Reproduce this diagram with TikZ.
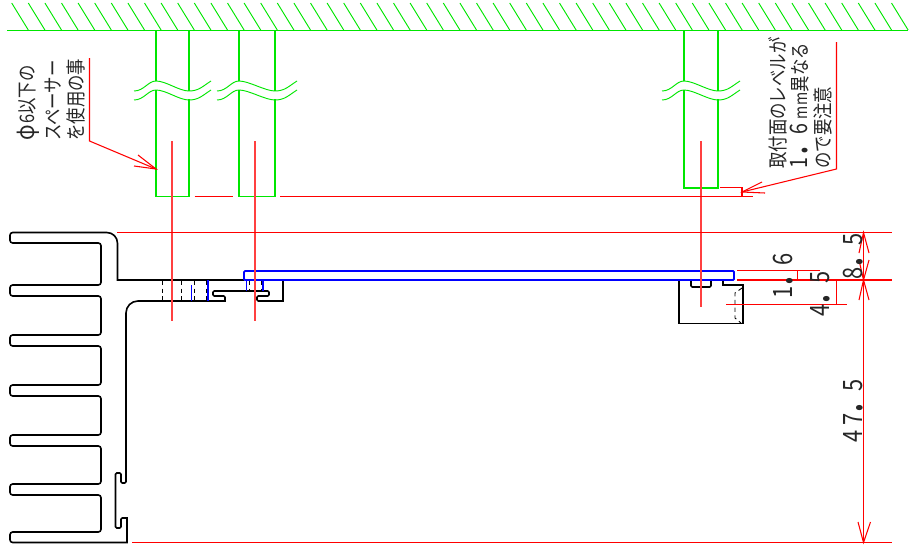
\documentclass[tikz,border=0pt]{standalone}
\usepackage{graphicx}
\usepackage{fontspec}
\newfontfamily\cadfont[FakeStretch=0.82]{Noto Sans CJK JP}
\usepackage{tikz}
\usetikzlibrary{calc, positioning, arrows.meta}
\definecolor{cadgreen}{RGB}{0,230,0}
\definecolor{cadred}{RGB}{255,0,0}
\definecolor{cadblue}{RGB}{0,0,255}
\newcommand{\bigdot}{\scalebox{1.8}{.}}
\newcommand{\smallm}{{\fontsize{13}{13}\selectfont m}}
\tikzset{
    hatch/.style={draw=cadgreen, line width=0.7pt},
    spacer/.style={draw=cadgreen, line width=1.3pt},
    wave/.style={draw=cadgreen, line width=0.7pt},
    dim/.style={draw=cadred, line width=0.8pt},
    centre/.style={draw=cadred!75, line width=1pt},
    profile/.style={draw=black, line width=1.2pt},
    hidden/.style={draw=black, line width=0.7pt, dash pattern=on 3.2pt off 2.6pt},
    plate/.style={draw=cadblue, line width=1.4pt},
    bluehole/.style={draw=cadblue, line width=0.9pt},
    note/.style={rotate=90, anchor=south west, inner sep=0pt, text=black!85, font=\cadfont\fontsize{15}{15}\selectfont, align=left},
    dimtext/.style={rotate=90, anchor=south west, inner sep=0pt, text=black!85, font=\cadfont\fontsize{20}{20}\selectfont}
}
% one spacer with its break, #1 and #2 are the sides, #3 the foot
\newcommand{\spacerpost}[3]{
    \draw[spacer] (#1,30) -- (#1,81) (#1,90) -- (#1,#3) -- (#2,#3) -- (#2,99) (#2,91) -- (#2,30);
    \foreach \dy in {0,9} {
        \draw[wave, yshift=-\dy*0.75pt] (#1-22,91) .. controls (#1-12,91) and (#1-8,81) .. (#1,81)
            .. controls (#1+10,81) and (#2-10,91) .. (#2,91)
            .. controls (#2+10,91) and (#2+14,86) .. (#2+22,81);
    }
}
\begin{document}
\begin{tikzpicture}[x=0.75pt, y=-0.75pt]
        \useasboundingbox (0,0) rectangle (916,550);

        % Ceiling
        \draw[hatch] (7,30) -- (908,30);
        \foreach \i in {0,...,53} {
            \draw[hatch] (11.7+16.6*\i,3) -- (28.3+16.6*\i,30);
        }

        % Spacers
        \spacerpost{156}{189}{196.5}
        \spacerpost{239}{275}{196.5}
        \spacerpost{684}{718}{188}

        % Profile
        \draw[profile, rounded corners=0pt] (244,280) -- (117.5,280)
            [rounded corners=8pt] -- (117.5,232.5)
            [rounded corners=2pt] -- (10,232.5) -- (10,243) -- (101,243) -- (101,285)
            -- (10,285) -- (10,296) -- (101,296) -- (101,335)
            -- (10,335) -- (10,346) -- (101,346) -- (101,385)
            -- (10,385) -- (10,396) -- (101,396) -- (101,435)
            -- (10,435) -- (10,446) -- (101,446) -- (101,484)
            -- (10,484) -- (10,495) -- (101,495) -- (101,532)
            -- (10,532) -- (10,542.5) [sharp corners] -- (127,542.5) -- (127,518)
            [rounded corners=1pt] -- (121,518) -- (121,528) -- (115.5,528) -- (115.5,473) -- (121,473) -- (121,483) -- (126,483)
            [rounded corners=9pt] -- (126,301) [rounded corners=0pt] -- (225,301)
            [rounded corners=1pt] -- (225,296) -- (213,296) -- (213,291) -- (269,291) -- (269,296) -- (257,296) -- (257,301)
            [rounded corners=0pt] -- (283,301) -- (283,280);

        % Hidden holes
        \foreach \hx in {162.7,181.7,194.3,206.7} {
            \draw[hidden] (\hx,281) -- (\hx,301);
        }
        \foreach \hx in {249,261} {
            \draw[hidden] (\hx,281) -- (\hx,291);
        }
        \draw[bluehole] (191.7,285) -- (191.7,301);
        \draw[bluehole] (208,280) -- (208,301);
        \draw[bluehole] (246.7,280) -- (246.7,291);
        \draw[bluehole] (263,280) -- (263,291);
        \draw[hidden] (742,288) -- (735,293) -- (735,318) -- (741,323);

        % Bracket
        \draw[profile] (679,280) -- (679,323.5) -- (742.7,323.5) -- (742.7,285) -- (722.7,285) -- (722.7,280);
        \draw[profile, rounded corners=1pt] (691,280) -- (691,287) -- (711,287) -- (711,280);

        % Plate
        \draw[plate, rounded corners=0.8pt] (244,271) rectangle (734,280);

        % Centre lines
        \draw[centre] (172,141) -- (172,321);
        \draw[centre] (255,141) -- (255,321);
        \draw[centre] (701,141) -- (701,307);

        % Dimension lines
        \coordinate (dimTop) at (863.5,232.5);
        \coordinate (dimMid) at (863.5,280);
        \coordinate (dimBot) at (863.5,542.5);
        \draw[dim] (117,232.5) -- (892,232.5);
        \draw[dim] (737,280) -- (892,280);
        \draw[dim] (737,270.5) -- (820,270.5);
        \draw[dim] (726,304.5) -- (847,304.5);
        \draw[dim] (797.5,270.5) -- (797.5,280);
        \draw[dim] (836.5,280) -- (836.5,304.5);
        \draw[dim] (132,542.5) -- (892,542.5);
        \draw[dim] (dimTop) -- (dimBot);
        \draw[dim] (859,253) -- (dimTop) -- (869,253);
        \draw[dim] (859,260) -- (dimMid) -- (869,260);
        \draw[dim] (859,300) -- (dimMid) -- (869,300);
        \draw[dim] (858,522) -- (dimBot) -- (870.5,522);
        \draw[dim] (194.5,196.5) -- (233,196.5);
        \draw[dim] (280,196.5) -- (753,196.5);
        \draw[dim] (720,187.5) -- (742,187.5) -- (742,196.5);

        % Leaders
        \coordinate (leftTip) at (156,169);
        \coordinate (rightTip) at (742,192);
        \draw[dim] (89.5,58) -- (89.5,141) -- (leftTip);
        \draw[dim] (138,155) -- (leftTip) -- (134,166);
        \draw[dim] (836.5,42) -- (836.5,169) -- (rightTip);
        \draw[dim] (762,182) -- (rightTip) -- (765,193);

        % Notes
        \node[note] (noteLeftA) at (40,141) {\scalebox{1.25}{φ}\kern1pt 6以下の};
        \node[note] (noteLeftB) at (61.5,141) {スペーサー};
        \node[note] (noteLeftC) at (85,141) {を使用の事};
        \node[note] (noteRightA) at (787,169) {取付面のレベルが};
        \node[note] (noteRightB) at (809,169) {{\fontsize{18}{18}\selectfont 1\kern2pt\bigdot\kern8pt 6}\kern3pt\smallm\kern0.5pt\smallm\kern0.5pt 異なる};
        \node[note] (noteRightC) at (832,169) {ので要注意};

        % Dimension texts
        \node[dimtext] (dimA) at (793,299) {1\bigdot\kern7.5pt 6};
        \node[dimtext] (dimB) at (830,317) {4\bigdot\kern7.5pt 5};
        \node[dimtext] (dimC) at (863,280) {8\bigdot\kern8pt 5};
        \node[dimtext] (dimD) at (863,443) {4\kern4pt 7\bigdot\kern8pt 5};

\end{tikzpicture}
\end{document}
